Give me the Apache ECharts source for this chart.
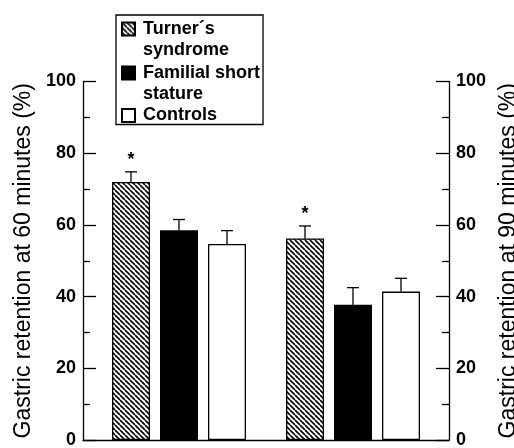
<!DOCTYPE html>
<html><head><meta charset="utf-8">
<script src="https://cdn.jsdelivr.net/npm/echarts@6/dist/echarts.min.js"></script>
<style>html,body{margin:0;padding:0;background:#fff}#c{width:514px;height:448px}</style>
</head><body><div id="c"></div>
<script>
// ---- data ----
const categories = ['60 minutes', '90 minutes'];
const seriesNames = ['Turner\u00b4s\nsyndrome', 'Familial short\nstature', 'Controls'];
const turner = [72.0, 56.2];
const familial = [58.5, 37.7];
const controls = [54.7, 41.4];
const turnerErr = [2.8, 3.5];
const familialErr = [3.0, 4.8];
const controlsErr = [3.7, 3.7];
const turnerSig = [true, true];
const familialSig = [false, false];
const controlsSig = [false, false];
const yTicks = [0, 20, 40, 60, 80, 100];

// ---- style ----
const FONT = 'Liberation Sans, Arial, Helvetica, sans-serif';
const BAR_W = 38, BAR_GAP = 10, LW = 1.3;
const Y_MIN = yTicks[0], Y_MAX = yTicks[yTicks.length - 1], Y_STEP = yTicks[1] - yTicks[0];

function hatch() {
  const s = 5;
  const c = document.createElement('canvas');
  c.width = s; c.height = s;
  const g = c.getContext('2d');
  g.fillStyle = '#fff'; g.fillRect(0, 0, s, s);
  g.strokeStyle = '#000'; g.lineWidth = 1.6;
  g.beginPath();
  [-s, 0, s].forEach(o => { g.moveTo(o, 0); g.lineTo(o + s, s); });
  g.stroke();
  return c;
}
const hatchFill = { image: hatch(), repeat: 'repeat' };

function errSeries(idx, vals, errs, sig) {
  return {
    type: 'custom',
    xAxisIndex: 1, yAxisIndex: 2,
    z: 5,
    silent: true,
    data: vals.map((v, i) => [i, v, v + errs[i], sig[i] ? 1 : 0]),
    renderItem(params, api) {
      const base = api.coord([api.value(0), api.value(1)]);
      const top = api.coord([api.value(0), api.value(2)]);
      const x = base[0] + (idx - 1) * (BAR_W + BAR_GAP);
      const children = [
        { type: 'line', shape: { x1: x, y1: base[1], x2: x, y2: top[1] }, style: { stroke: '#000', lineWidth: LW } },
        { type: 'line', shape: { x1: x - 6, y1: top[1], x2: x + 6, y2: top[1] }, style: { stroke: '#000', lineWidth: LW } }
      ];
      if (api.value(3)) {
        children.push({ type: 'text', x: x, y: top[1] - 12, style: { text: '*', fill: '#000', font: 'bold 18px ' + FONT, align: 'center', verticalAlign: 'middle' } });
      }
      return { type: 'group', children };
    }
  };
}

function yAxisDef(pos, name, gap) {
  return {
    type: 'value', position: pos, gridIndex: 0,
    min: Y_MIN, max: Y_MAX, interval: Y_STEP,
    axisLine: { show: true, lineStyle: { color: '#000', width: LW } },
    axisTick: { show: true, inside: true, length: 13, lineStyle: { color: '#000', width: LW } },
    minorTick: { show: true, splitNumber: 2, length: 7, lineStyle: { color: '#000', width: LW } },
    splitLine: { show: false },
    axisLabel: { color: '#000', fontSize: 18, fontWeight: 'bold', fontFamily: FONT, margin: 7 },
    name: name, nameLocation: 'middle', nameRotate: 90, nameGap: gap,
    nameTextStyle: { color: '#000', fontSize: 23, fontFamily: FONT }
  };
}

const chart = echarts.init(document.getElementById('c'), null, { renderer: 'canvas' });
chart.setOption({
  animation: false,
  backgroundColor: '#fff',
  grid: [
    { left: 83, right: 65, top: 81.5, bottom: 8, containLabel: false, outerBoundsMode: 'none' },
    { left: 92, right: 74, top: 81.5, bottom: 8, containLabel: false, outerBoundsMode: 'none' }
  ],
  legend: {
    orient: 'vertical', left: 116, top: 15,
    itemWidth: 13, itemHeight: 34, itemGap: 2,
    padding: [3.5, 3, 0, 5],
    borderColor: '#000', borderWidth: LW,
    selectedMode: false,
    textStyle: { color: '#000', fontSize: 18, fontWeight: 'bold', fontFamily: FONT, lineHeight: 21, padding: [0, 0, 0, 3] },
    data: [
      { name: seriesNames[0], icon: 'path://M0,0h13v13h-13Z M0,34' },
      { name: seriesNames[1], icon: 'path://M0,0h13v13h-13Z M0,34' },
      { name: seriesNames[2], icon: 'path://M0,0h13v13h-13Z', textStyle: { lineHeight: 18 } }
    ]
  },
  xAxis: [
    { type: 'value', gridIndex: 0, min: 0, max: 1,
      axisLine: { show: true, onZero: false, lineStyle: { color: '#000', width: LW } },
      axisTick: { show: false }, axisLabel: { show: false }, splitLine: { show: false } },
    { type: 'category', gridIndex: 1, data: categories,
      axisLine: { show: false }, axisTick: { show: false }, axisLabel: { show: false } }
  ],
  yAxis: [
    yAxisDef('left', 'Gastric retention at 60 minutes (%)', 47),
    yAxisDef('right', 'Gastric retention at 90 minutes (%)', 42),
    { type: 'value', gridIndex: 1, min: Y_MIN, max: Y_MAX, interval: Y_STEP, show: false }
  ],
  series: [
    { name: seriesNames[0], type: 'bar', xAxisIndex: 1, yAxisIndex: 2, data: turner, barWidth: BAR_W, barGap: (BAR_GAP / BAR_W * 100) + '%',
      itemStyle: { color: hatchFill, borderColor: '#000', borderWidth: LW } },
    { name: seriesNames[1], type: 'bar', xAxisIndex: 1, yAxisIndex: 2, data: familial, barWidth: BAR_W, barGap: (BAR_GAP / BAR_W * 100) + '%',
      itemStyle: { color: '#000', borderColor: '#000', borderWidth: LW } },
    { name: seriesNames[2], type: 'bar', xAxisIndex: 1, yAxisIndex: 2, data: controls, barWidth: BAR_W, barGap: (BAR_GAP / BAR_W * 100) + '%',
      itemStyle: { color: '#fff', borderColor: '#000', borderWidth: LW } },
    errSeries(0, turner, turnerErr, turnerSig),
    errSeries(1, familial, familialErr, familialSig),
    errSeries(2, controls, controlsErr, controlsSig)
  ]
});
</script></body></html>
